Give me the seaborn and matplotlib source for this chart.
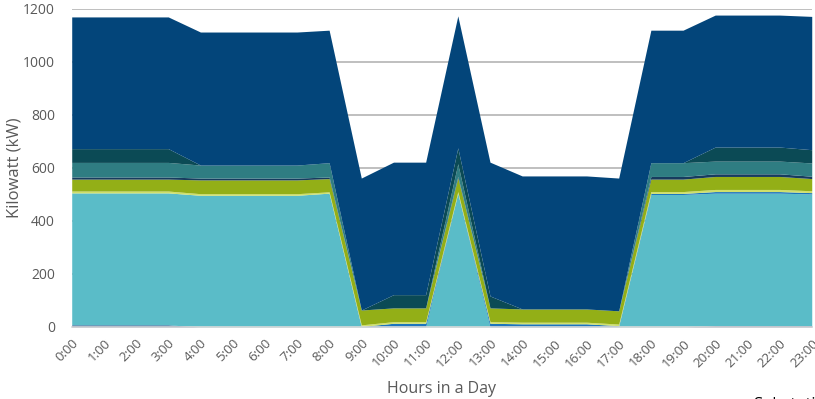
import matplotlib
matplotlib.use("Agg")
import matplotlib.pyplot as plt
import seaborn as sns

hours = [f"{h}:00" for h in range(24)]

# Load components in kW, stacked from bottom to top
base_navy  = [8, 8, 8, 8, 0, 0, 0, 0, 0, 0, 0, 0, 0, 0, 0, 0, 0, 0, 0, 0, 5, 5, 5, 5]
light_blue = [498, 498, 498, 498, 497, 497, 497, 497, 505, 0, 0, 0, 505, 0, 0, 0, 0, 3, 500, 500, 500, 500, 500, 497]
blue       = [0, 0, 0, 0, 0, 0, 0, 0, 0, 2, 14, 14, 0, 14, 12, 12, 12, 2, 4, 4, 6, 6, 6, 5]
pale_green = [7, 7, 7, 7, 6, 6, 6, 6, 5, 6, 6, 6, 6, 6, 6, 6, 6, 6, 7, 7, 8, 8, 8, 7]
olive      = [45, 45, 45, 45, 52, 52, 52, 52, 50, 56, 52, 52, 52, 52, 50, 50, 50, 50, 47, 47, 49, 49, 49, 46]
dark_line  = [8, 8, 8, 8, 7, 7, 7, 7, 6, 0, 0, 0, 5, 0, 0, 0, 0, 0, 10, 10, 10, 10, 10, 9]
teal       = [55, 55, 55, 55, 49, 49, 49, 49, 54, 0, 0, 0, 48, 0, 0, 0, 0, 0, 52, 52, 48, 48, 48, 50]
dark_teal  = [52, 52, 52, 52, 0, 0, 0, 0, 0, 0, 50, 50, 60, 45, 0, 0, 0, 0, 0, 0, 53, 53, 53, 50]
navy       = [497, 497, 497, 497, 502, 502, 502, 502, 500, 498, 500, 500, 498, 505, 502, 502, 502, 501, 500, 500, 498, 498, 498, 503]

colors = ["#2b4a8b", "#5abcc8", "#1b75bc", "#cfe06a", "#93af17",
          "#173b5e", "#2f7d82", "#0b4a55", "#03457a"]

sns.set_theme(style="white")
plt.rcParams["font.family"] = ["Open Sans", "DejaVu Sans"]

fig = plt.figure(figsize=(8.15, 3.99), dpi=100)
ax = fig.add_axes([0.088, 0.1805, 0.908, 0.797])

x = list(range(24))
ax.stackplot(x, base_navy, light_blue, blue, pale_green, olive,
             dark_line, teal, dark_teal, navy,
             colors=colors, linewidth=0, zorder=2)

ax.set_xlim(0, 23)
ax.set_ylim(0, 1200)
ax.set_yticks(range(0, 1201, 200))
ax.set_xticks(x)
ax.set_xticklabels(hours, rotation=45, ha="right", rotation_mode="anchor",
                   fontsize=9.5, color="#595959")
ax.tick_params(axis="y", labelsize=10, labelcolor="#595959", pad=12, length=0)
ax.tick_params(axis="x", length=0, pad=7)

ax.grid(axis="y", color="#bfbfbf", linewidth=1.4, zorder=0)
ax.set_axisbelow(True)
sns.despine(ax=ax, left=True, top=True, right=True)
ax.spines["bottom"].set_color("#d9d9d9")
ax.spines["bottom"].set_linewidth(1.2)

ax.set_xlabel("Hours in a Day", fontsize=11.5, color="#595959", labelpad=8)
ax.set_ylabel("Kilowatt (kW)", fontsize=12, color="#595959")
ax.yaxis.set_label_coords(-0.066, 0.5)

fig.text(0.924, 0.006, "Substation", fontsize=12, color="black",
         ha="left", va="top")

fig.savefig("out.png", dpi=100)
